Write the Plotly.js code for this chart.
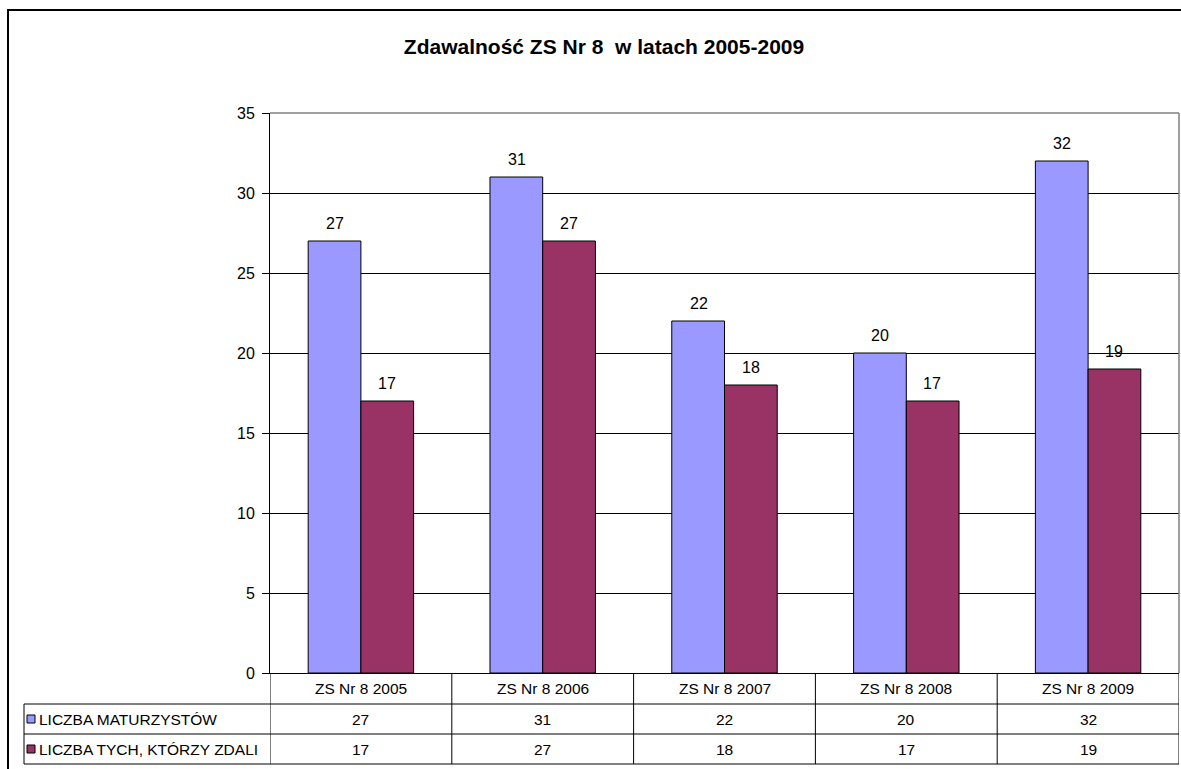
<!DOCTYPE html>
<html>
<head>
<meta charset="utf-8">
<script src="https://cdn.plot.ly/plotly-3.0.1.min.js"></script>
<style>
  html, body { margin: 0; padding: 0; background: #fff; }
  #plot { width: 1181px; height: 769px; }
</style>
</head>
<body>
<div id="plot"></div>
<script>
// =========================
// Data
// =========================
const categories = ['ZS Nr 8 2005', 'ZS Nr 8 2006', 'ZS Nr 8 2007', 'ZS Nr 8 2008', 'ZS Nr 8 2009'];
const seriesNames = ['LICZBA MATURZYSTÓW', 'LICZBA TYCH, KTÓRZY ZDALI'];
const maturzysci = [27, 31, 22, 20, 32];
const zdali = [17, 27, 18, 17, 19];
const seriesColors = ['#9999FF', '#993366'];
const yTicks = [0, 5, 10, 15, 20, 25, 30, 35];

// =========================
// Geometry helpers (pixels -> paper)
// =========================
const W = 1181, H = 769;
const PL = 270, PT = 113, PW = 909, PH = 560;
const px2x = p => (p - PL) / PW;
const px2y = p => (PT + PH - p) / PH;

const FONT = 'Liberation Sans, Arial, sans-serif';
const rowEdges = [673, 704, 734, 764];
const tableLeft = 24;
const tableRight = PL + PW;

// =========================
// Traces
// =========================
const allSeries = [maturzysci, zdali];
const data = allSeries.map((vals, k) => ({
  type: 'bar',
  name: seriesNames[k],
  x: categories,
  y: vals,
  marker: { color: seriesColors[k], line: { color: '#000', width: 1 } },
  hoverinfo: 'x+y'
}));

// =========================
// Shapes & annotations (data table, labels)
// =========================
const shapes = [];
const annotations = [];

// bar value labels
allSeries.forEach((vals, k) => {
  vals.forEach((v, i) => {
    annotations.push({
      x: categories[i], y: v, xref: 'x', yref: 'y',
      xshift: k === 0 ? -26 : 26, yshift: 7,
      yanchor: 'bottom', showarrow: false,
      text: String(v), font: { family: FONT, size: 16, color: '#000' }
    });
  });
});

// plot border (gray top & right)
shapes.push({ type: 'line', xref: 'paper', yref: 'paper', x0: 0, x1: 1, y0: 1, y1: 1,
  line: { color: '#808080', width: 1.5 } });
shapes.push({ type: 'line', xref: 'paper', yref: 'paper', x0: 1, x1: 1, y0: 0, y1: 1,
  line: { color: '#808080', width: 1.5 } });

// table vertical lines at category boundaries
for (let i = 0; i <= categories.length; i++) {
  shapes.push({ type: 'line', xref: 'x', yref: 'paper', x0: i - 0.5, x1: i - 0.5,
    y0: px2y(rowEdges[0]), y1: px2y(rowEdges[3]), line: { color: '#000', width: 1 } });
}
// table left border and horizontal lines
shapes.push({ type: 'line', xref: 'paper', yref: 'paper', x0: px2x(tableLeft), x1: px2x(tableLeft),
  y0: px2y(rowEdges[1]), y1: px2y(rowEdges[3]), line: { color: '#000', width: 1 } });
for (let r = 1; r < rowEdges.length; r++) {
  shapes.push({ type: 'line', xref: 'paper', yref: 'paper', x0: px2x(tableLeft), x1: px2x(tableRight),
    y0: px2y(rowEdges[r]), y1: px2y(rowEdges[r]), line: { color: '#000', width: 1 } });
}

// header row: categories
categories.forEach(c => {
  annotations.push({ x: c, xref: 'x', yref: 'paper', y: px2y((rowEdges[0] + rowEdges[1]) / 2),
    xanchor: 'center', yanchor: 'middle',
    showarrow: false, text: c, font: { family: FONT, size: 15.5, color: '#000' } });
});

// value rows
allSeries.forEach((vals, k) => {
  const yc = px2y((rowEdges[k + 1] + rowEdges[k + 2]) / 2);
  vals.forEach((v, i) => {
    annotations.push({ x: categories[i], xref: 'x', yref: 'paper', y: yc,
      xanchor: 'center', yanchor: 'middle',
      showarrow: false, text: String(v), font: { family: FONT, size: 15.5, color: '#000' } });
  });
  // legend key square
  shapes.push({ type: 'rect', xref: 'paper', yref: 'paper',
    x0: px2x(27), x1: px2x(35), y0: px2y(rowEdges[k + 1] + 11), y1: px2y(rowEdges[k + 1] + 19),
    fillcolor: seriesColors[k], line: { color: '#000', width: 1 } });
  annotations.push({ x: px2x(37), xref: 'paper', yref: 'paper', y: yc,
    xanchor: 'left', yanchor: 'middle',
    showarrow: false, text: seriesNames[k], font: { family: FONT, size: 15.5, color: '#000' } });
});

// outer chart border
shapes.push({ type: 'rect', xref: 'paper', yref: 'paper',
  x0: px2x(8), x1: px2x(1195), y0: px2y(790), y1: px2y(10),
  line: { color: '#000', width: 2 } });

// =========================
// Layout
// =========================
const layout = {
  width: W, height: H,
  margin: { l: PL, r: W - PL - PW, t: PT, b: H - PT - PH },
  paper_bgcolor: '#fff', plot_bgcolor: '#fff',
  showlegend: false,
  barmode: 'group', bargap: 0.42, bargroupgap: 0,
  title: {
    text: '<b>Zdawalność ZS Nr 8  w latach 2005-2009</b>',
    font: { family: FONT, size: 21, color: '#000' },
    x: 604 / W, xref: 'container', xanchor: 'center',
    y: 1 - 47 / H, yref: 'container', yanchor: 'middle'
  },
  xaxis: {
    type: 'category', range: [-0.5, categories.length - 0.5],
    showticklabels: false, ticks: '', showgrid: false, zeroline: false,
    showline: true, linecolor: '#000', linewidth: 1, fixedrange: true
  },
  yaxis: {
    range: [0, 35], tickvals: yTicks, ticktext: yTicks.map(String),
    ticks: 'outside', ticklen: 7, tickcolor: '#000', tickwidth: 1,
    ticklabelstandoff: 4,
    showgrid: true, gridcolor: '#000', gridwidth: 1, zeroline: false,
    showline: true, linecolor: '#000', linewidth: 1,
    tickfont: { family: FONT, size: 16, color: '#000' }, fixedrange: true
  },
  shapes: shapes,
  annotations: annotations
};

Plotly.newPlot('plot', data, layout, { displayModeBar: false, staticPlot: true });
</script>
</body>
</html>
